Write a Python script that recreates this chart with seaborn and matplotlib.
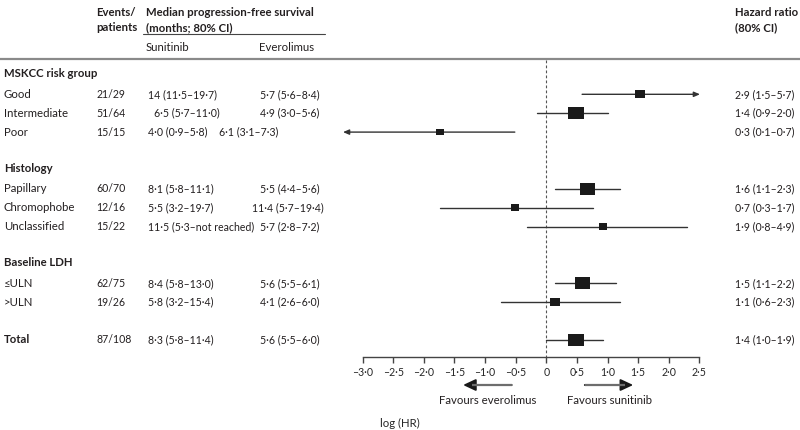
import numpy as np
import matplotlib
matplotlib.use("Agg")
import matplotlib.pyplot as plt
import seaborn as sns

# ---- data ----
groups = ["MSKCC risk group", "Histology", "Baseline LDH"]
group_items = [["Good", "Intermediate", "Poor"],
               ["Papillary", "Chromophobe", "Unclassified"],
               ["≤ULN", ">ULN"]]
total_label = "Total"

events = ["21/29", "51/64", "15/15", "60/70", "12/16", "15/22", "62/75", "19/26", "87/108"]
pfs_sunitinib = ["14 (11·5–19·7)", "6·5 (5·7–11·0)", "4·0 (0·9–5·8)",
                 "8·1 (5·8–11·1)", "5·5 (3·2–19·7)", "11·5 (5·3–not reached)",
                 "8·4 (5·8–13·0)", "5·8 (3·2–15·4)", "8·3 (5·8–11·4)"]
pfs_everolimus = ["5·7 (5·6–8·4)", "4·9 (3·0–5·6)", "6·1 (3·1–7·3)",
                  "5·5 (4·4–5·6)", "11·4 (5·7–19·4)", "5·7 (2·8–7·2)",
                  "5·6 (5·5–6·1)", "4·1 (2·6–6·0)", "5·6 (5·5–6·0)"]
hr = [2.9, 1.4, 0.3, 1.6, 0.7, 1.9, 1.5, 1.1, 1.4]
hr_lo = [1.5, 0.9, 0.1, 1.1, 0.3, 0.8, 1.1, 0.6, 1.0]
hr_hi = [5.7, 2.0, 0.7, 2.3, 1.7, 4.9, 2.2, 2.3, 1.9]
weights = [0.65, 0.97, 0.53, 0.99, 0.53, 0.53, 0.97, 0.66, 1.0]
xticks = np.arange(-3.0, 2.51, 0.5)

# ---- layout (pixels of the 800x430 figure) ----
W, H = 800, 430
X0_PX, PX_UNIT = 546.3, 61.2      # x=0 position and pixels per log unit
ROW0_PX, ROW_PX = 75.4, 18.9      # first row centre and row step
AXIS_PX = 357
sun_nudge = {"Intermediate": 6}
evr_nudge = {"Poor": -41, "Chromophobe": -8}


def xd(px):
    return (px - X0_PX) / PX_UNIT


def yd(px):
    return (px - ROW0_PX) / ROW_PX


def fmt(v):
    s = f"{abs(v):.1f}".replace(".", "·")
    if abs(v) < 1e-9:
        return "0"
    return ("–" if v < 0 else "") + s


# build row positions: header, items, blank
labels, rows, header_rows = [], [], []
r = 0
for g, items in zip(groups, group_items):
    header_rows.append(r)
    r += 1
    for it in items:
        labels.append(it)
        rows.append(r)
        r += 1
    r += 1
labels.append(total_label)
rows.append(r)

sns.set_theme(style="white")
plt.rcParams["font.family"] = ["Lato", "DejaVu Sans"]
plt.rcParams["text.color"] = "#231f20"
FS = 8.2       # words
FSN = 7.6      # numbers

fig = plt.figure(figsize=(W / 100, H / 100), dpi=100)
ax = fig.add_axes([0, (H - AXIS_PX) / H, 1, AXIS_PX / H])
ax.set_xlim(xd(0), xd(W))
ax.set_ylim(yd(AXIS_PX), yd(0))
ax.set_facecolor("none")

lhr = np.log2(hr)
llo = np.log2(hr_lo)
lhi = np.log2(hr_hi)

# zero line
ax.plot([0, 0], [yd(60), yd(AXIS_PX)], color="#555555", lw=0.8,
        ls=(0, (2.5, 2)), zorder=1)

# confidence intervals (arrow where CI runs past axis)
arrow_ci = dict(arrowstyle="-|>,head_length=0.35,head_width=0.15",
                color="#333333", lw=1.0, shrinkA=0, shrinkB=0, mutation_scale=10)
for lo, hi, y in zip(llo, lhi, rows):
    if lo < xticks[0] - 1e-6:
        ax.annotate("", xy=(lo, y), xytext=(hi, y), arrowprops=arrow_ci)
    elif hi > xticks[-1] + 1e-6:
        ax.annotate("", xy=(hi, y), xytext=(lo, y), arrowprops=arrow_ci)
    else:
        ax.plot([lo, hi], [y, y], color="#333333", lw=1.0, zorder=2)

# boxes sized by weight
box = [(-1, -0.8), (1, -0.8), (1, 0.8), (-1, 0.8)]
size_map = {w: (15.5 * w * 0.72) ** 2 for w in set(weights)}
sns.scatterplot(x=lhr, y=rows, size=weights, sizes=size_map, marker=box,
                color="#1a1a1a", edgecolor="none", linewidth=0, legend=False,
                ax=ax, zorder=3)

# axis
for s in ["top", "left", "right"]:
    ax.spines[s].set_visible(False)
ax.spines["bottom"].set_bounds(xticks[0], xticks[-1])
ax.spines["bottom"].set_color("#444444")
ax.spines["bottom"].set_linewidth(1.0)
ax.set_yticks([])
ax.set_xticks(xticks)
ax.set_xticklabels([fmt(t) for t in xticks], fontsize=FSN)
ax.tick_params(axis="x", direction="out", length=4, width=1.0,
               color="#444444", pad=3, bottom=True)
ax.set_xlabel("log (HR)", fontsize=FS, labelpad=29)

# favours arrows
for x_from, x_to, txt in [(-0.565, -1.36, "Favours everolimus"),
                          (0.63, 1.42, "Favours sunitinib")]:
    ax.annotate("", xy=(x_to, yd(385)), xytext=(x_from, yd(385)),
                arrowprops=dict(arrowstyle="-|>,head_length=0.75,head_width=0.35",
                                color="#1a1a1a", lw=1.4, shrinkA=0, shrinkB=0,
                                mutation_scale=10), annotation_clip=False)
    sgn = 1 if x_to > x_from else -1
    ax.plot([x_from, x_to - sgn * 0.14], [yd(385), yd(385)], color="#6d6d6d",
            lw=1.6, clip_on=False, zorder=4, solid_capstyle="butt")
    ax.text((x_from + x_to) / 2, yd(400), txt, fontsize=FS, ha="center",
            va="center", clip_on=False)

# header block
bold = dict(fontsize=FS, fontweight="bold", va="center")
ax.text(xd(96.5), yd(12), "Events/", **bold)
ax.text(xd(96.5), yd(27.5), "patients", **bold)
ax.text(xd(146), yd(12), "Median progression-free survival", **bold)
ax.text(xd(146), yd(27.5), "(months; 80% CI)", **bold)
ax.text(xd(735), yd(12), "Hazard ratio", **bold)
ax.text(xd(735), yd(27.5), "(80% CI)", **bold)
ax.plot([xd(143), xd(325)], [yd(34.5), yd(34.5)], color="#444444", lw=0.8, clip_on=False)
ax.text(xd(146), yd(47.5), "Sunitinib", fontsize=FS, va="center")
ax.text(xd(259), yd(47.5), "Everolimus", fontsize=FS, va="center")
ax.plot([xd(0), xd(W)], [yd(59.5), yd(59.5)], color="#8a8a8a", lw=1.6, clip_on=False)

# group headers
for g, hrow in zip(groups, header_rows):
    ax.text(xd(4), hrow - 0.1, g, **bold)

# rows
for i, (lab, y) in enumerate(zip(labels, rows)):
    is_total = lab == total_label
    ax.text(xd(4), y, lab, fontsize=FS, va="center",
            fontweight="bold" if is_total else "normal")
    ax.text(xd(96.5), y, events[i], fontsize=FSN, va="center")
    ax.text(xd(147.5 + sun_nudge.get(lab, 0)), y, pfs_sunitinib[i], fontsize=FSN, va="center")
    ax.text(xd(260 + evr_nudge.get(lab, 0)), y, pfs_everolimus[i], fontsize=FSN, va="center")
    ax.text(xd(735), y, f"{fmt(hr[i])} ({fmt(hr_lo[i])}–{fmt(hr_hi[i])})",
            fontsize=FSN, va="center")

fig.savefig("out.png", dpi=100, facecolor="white")
